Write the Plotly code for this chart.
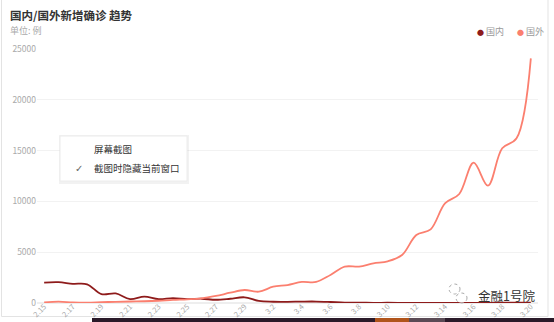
import plotly.graph_objects as go

dates = ["2.15", "2.16", "2.17", "2.18", "2.19", "2.20", "2.21", "2.22", "2.23", "2.24",
         "2.25", "2.26", "2.27", "2.28", "2.29", "3.1", "3.2", "3.3", "3.4", "3.5",
         "3.6", "3.7", "3.8", "3.9", "3.10", "3.11", "3.12", "3.13", "3.14", "3.15",
         "3.16", "3.17", "3.18", "3.19", "3.20"]
domestic = [2009, 2051, 1891, 1840, 880, 940, 380, 630, 380, 480,
            380, 420, 320, 420, 560, 200, 125, 119, 139, 143,
            99, 44, 40, 19, 24, 15, 8, 11, 20, 16,
            21, 13, 34, 39, 41]
foreign = [60, 130, 60, 40, 80, 120, 150, 170, 220, 300,
           360, 450, 690, 1010, 1280, 1110, 1600, 1770, 2070, 2070,
           2760, 3580, 3580, 3900, 4100, 4720, 6690, 7250, 9810, 10730,
           13810, 11550, 15230, 16210, 24085]
yticks = [0, 5000, 10000, 15000, 20000, 25000]
ytick_text = ["0", "5000", "10000", "15000", "20000", "25000"]
tick_dates = dates[::2]

FONT = "Noto Sans CJK SC"
C_DOM = "#8e1b1b"
C_FOR = "#fb7f6f"

ML, MR, MT, MB = 37, 16, 49, 19
W, H = 554, 322
PW, PH = W - ML - MR, H - MT - MB


def px(x):
    return (x - ML) / PW


def py(y):
    return (H - MB - y) / PH


fig = go.Figure()
fig.add_trace(go.Scatter(x=dates, y=domestic, mode="lines", name="国内",
                         line=dict(color=C_DOM, width=1.8, shape="spline", smoothing=1.0)))
fig.add_trace(go.Scatter(x=dates, y=foreign, mode="lines", name="国外",
                         line=dict(color=C_FOR, width=1.8, shape="spline", smoothing=1.0)))

shapes = []
# card frame
shapes.append(dict(type="rect", xref="paper", yref="paper",
                   x0=px(1.5), x1=px(548), y0=py(316.5), y1=py(-2),
                   line=dict(color="#e3e3e3", width=1), fillcolor="rgba(0,0,0,0)", layer="below"))
# taskbar strip
shapes.append(dict(type="rect", xref="paper", yref="paper",
                   x0=px(92), x1=px(554), y0=py(322), y1=py(318),
                   line=dict(width=0), fillcolor="#2a1a29", layer="below"))
shapes.append(dict(type="rect", xref="paper", yref="paper",
                   x0=px(375), x1=px(409), y0=py(322), y1=py(318),
                   line=dict(width=0), fillcolor="#b0541b", layer="below"))
shapes.append(dict(type="rect", xref="paper", yref="paper",
                   x0=px(409), x1=px(445), y0=py(322), y1=py(318),
                   line=dict(width=0), fillcolor="#5a4a55", layer="below"))
# popup menu shadow + box
shapes.append(dict(type="rect", xref="paper", yref="paper",
                   x0=px(59), x1=px(189), y0=py(184), y1=py(135),
                   line=dict(width=0), fillcolor="rgba(0,0,0,0.05)"))
shapes.append(dict(type="rect", xref="paper", yref="paper",
                   x0=px(60), x1=px(187), y0=py(181), y1=py(136),
                   line=dict(color="#ececec", width=1), fillcolor="#ffffff"))
# watermark icon
shapes.append(dict(type="circle", xref="paper", yref="paper",
                   x0=px(449), x1=px(460), y0=py(294), y1=py(284),
                   line=dict(color="#aaaaaa", width=1, dash="dot"), fillcolor="rgba(255,255,255,0.6)"))
shapes.append(dict(type="circle", xref="paper", yref="paper",
                   x0=px(456), x1=px(467), y0=py(303), y1=py(293),
                   line=dict(color="#aaaaaa", width=1, dash="dot"), fillcolor="rgba(255,255,255,0.6)"))

annotations = [
    dict(text="<b>国内/国外新增确诊 趋势</b>", x=px(8), y=py(15), xref="paper", yref="paper",
         xanchor="left", yanchor="middle", showarrow=False,
         font=dict(family=FONT, size=11.5, color="#333333")),
    dict(text="单位: 例", x=px(8), y=py(31), xref="paper", yref="paper",
         xanchor="left", yanchor="middle", showarrow=False,
         font=dict(family=FONT, size=9, color="#aaaaaa")),
    dict(text="<span style='color:%s;font-size:7px'>●</span> 国内" % C_DOM, x=px(475), y=py(32),
         xref="paper", yref="paper", xanchor="left", yanchor="middle", showarrow=False,
         font=dict(family=FONT, size=9, color="#999999")),
    dict(text="<span style='color:%s;font-size:7px'>●</span> 国外" % C_FOR, x=px(515), y=py(32),
         xref="paper", yref="paper", xanchor="left", yanchor="middle", showarrow=False,
         font=dict(family=FONT, size=9, color="#999999")),
    dict(text="屏幕截图", x=px(92), y=py(149), xref="paper", yref="paper",
         xanchor="left", yanchor="middle", showarrow=False,
         font=dict(family=FONT, size=9.5, color="#333333")),
    dict(text="✓", x=px(73), y=py(168), xref="paper", yref="paper",
         xanchor="left", yanchor="middle", showarrow=False,
         font=dict(family="DejaVu Sans", size=10, color="#666666")),
    dict(text="截图时隐藏当前窗口", x=px(92), y=py(168), xref="paper", yref="paper",
         xanchor="left", yanchor="middle", showarrow=False,
         font=dict(family=FONT, size=9.5, color="#333333")),
    dict(text="金融1号院", x=px(476), y=py(295), xref="paper", yref="paper",
         xanchor="left", yanchor="middle", showarrow=False,
         font=dict(family=FONT, size=12.5, color="#333333")),
]

fig.update_layout(
    width=W, height=H,
    margin=dict(l=ML, r=MR, t=MT, b=MB, autoexpand=False),
    paper_bgcolor="#ffffff", plot_bgcolor="#ffffff",
    showlegend=False,
    shapes=shapes,
    annotations=annotations,
    xaxis=dict(type="category", range=[-0.5, len(dates) - 0.5], automargin=False,
               tickmode="array", tickvals=tick_dates, ticktext=tick_dates,
               tickangle=-45, showgrid=False, zeroline=False, showline=False,
               ticks="", ticklabelstandoff=-3,
               tickfont=dict(family=FONT, size=7.5, color="#aaaaaa")),
    yaxis=dict(range=[0, 25000], tickmode="array", tickvals=yticks, ticktext=ytick_text,
               showgrid=True, gridcolor="#f2f2f2", automargin=False,
               gridwidth=1, zeroline=True, zerolinecolor="#eeeeee", showline=False,
               ticks="", tickfont=dict(family=FONT, size=8.5, color="#aaaaaa")),
    font=dict(family=FONT),
)

fig.write_html("out.html")
